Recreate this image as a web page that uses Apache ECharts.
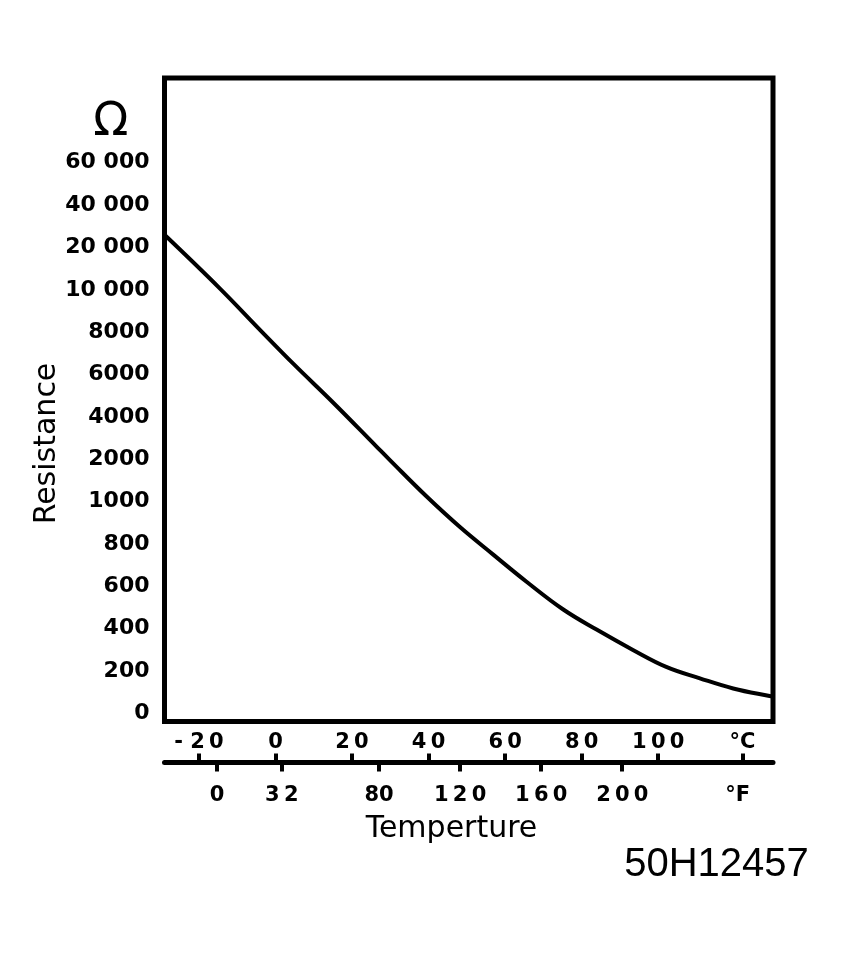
<!DOCTYPE html>
<html>
<head>
<meta charset="utf-8">
<script src="https://cdn.jsdelivr.net/npm/echarts@6/dist/echarts.min.js"></script>
<style>
html,body{margin:0;background:#fff}
#chart-show{width:851px;height:957px}
</style>
</head>
<body>
<div id="chart-show"></div>
<script>
// resistance ladder: the y axis is drawn with evenly spaced steps, not a real scale
var resistanceTicks = [0, 200, 400, 600, 800, 1000, 2000, 4000, 6000, 8000, 10000, 20000, 40000, 60000];
var resistanceLabels = ['0', '200', '400', '600', '800', '1000', '2000', '4000', '6000', '8000', '10 000', '20 000', '40 000', '60 000'];
var celsiusTicks = [-20, 0, 20, 40, 60, 80, 100];
var celsiusLabels = ['- 2\u20090', '0', '2\u20090', '4\u20090', '6\u20090', '8\u20090', '1\u20090\u20090'];
var fahrenheitTicks = [0, 32, 80, 120, 160, 200];
var fahrenheitLabels = ['0', '3\u20092', '80', '1\u20092\u20090', '1\u20096\u20090', '2\u20090\u20090'];
var celsiusUnitAt = 122;
var fahrenheitUnitAt = 257;

// curve: temperature (°C) and resistance (ohm)
var curveTemp = [-29, -14.5, -4, 4.7, 15.1, 26.4, 29.9, 39.5, 48.2, 56.9, 65.6, 75.1, 83.9, 93.4, 102.1, 110.9, 119.6, 129.1, 130];
var curveOhm = [26000, 10300, 8100, 6500, 4670, 2600, 1980, 1120, 880, 750, 622, 492, 396, 300, 220, 166, 118, 82, 80];

window.onload = all;
function all() {
    drawChart();
}

// position of a resistance value on the evenly spaced ladder
function ladderIndex(r) {
    var t = resistanceTicks;
    for (var i = 0; i < t.length - 1; i++) {
        if (r <= t[i + 1]) {
            return i + (r - t[i]) / (t[i + 1] - t[i]);
        }
    }
    var n = t.length - 1;
    return n + (r - t[n]) / (t[n] - t[n - 1]);
}

function drawChart() {
    var chart = echarts.init(document.getElementById('chart-show'));
    var boldFont = 'DejaVu Sans';

    var points = [];
    for (var i = 0; i < curveTemp.length; i++) {
        points.push([curveTemp[i], ladderIndex(curveOhm[i])]);
    }
    var yCustom = [];
    for (var k = 0; k <= resistanceTicks.length; k++) yCustom.push(k);

    var option = {
        animation: false,
        backgroundColor: '#fff',
        grid: {
            left: 164.5, right: 78, top: 78, bottom: 235.5,
            show: true, borderColor: '#000', borderWidth: 5, backgroundColor: 'transparent'
        },
        xAxis: [{
            // °C row: labels sit above the shared line, ticks point up
            type: 'value', position: 'bottom', offset: 41,
            min: -29, max: 130,
            axisLine: { show: true, onZero: false, lineStyle: { color: '#000', width: 5, cap: 'round' } },
            axisTick: { show: true, inside: true, length: 9, customValues: celsiusTicks.concat([celsiusUnitAt]),
                lineStyle: { color: '#000', width: 4 } },
            axisLabel: {
                inside: true, margin: 9, customValues: celsiusTicks.concat([celsiusUnitAt]),
                fontFamily: boldFont, fontWeight: 'bold', fontSize: 21, color: '#000',
                formatter: function (v) {
                    if (Math.abs(v - celsiusUnitAt) < 0.01) return '\u00B0C';
                    var i = celsiusTicks.indexOf(v);
                    return i < 0 ? '' : celsiusLabels[i];
                }
            },
            splitLine: { show: false }
        }, {
            // °F row: ticks point down, labels below
            type: 'value', position: 'bottom', offset: 41,
            min: -25.9, max: 274.4,
            axisLine: { show: false, onZero: false },
            axisTick: { show: true, length: 9, customValues: fahrenheitTicks,
                lineStyle: { color: '#000', width: 4 } },
            axisLabel: {
                margin: 23, customValues: fahrenheitTicks.concat([fahrenheitUnitAt]),
                fontFamily: boldFont, fontWeight: 'bold', fontSize: 21, color: '#000',
                formatter: function (v) {
                    if (Math.abs(v - fahrenheitUnitAt) < 0.01) return '\u00B0F';
                    var i = fahrenheitTicks.indexOf(v);
                    return i < 0 ? '' : fahrenheitLabels[i];
                }
            },
            splitLine: { show: false }
        }],
        yAxis: {
            type: 'value', min: -0.19, max: 15,
            axisLine: { show: false },
            axisTick: { show: false },
            splitLine: { show: false },
            axisLabel: {
                margin: 15, customValues: yCustom,
                fontFamily: boldFont, fontWeight: 'bold', fontSize: 22, color: '#000',
                formatter: function (v) {
                    if (v === resistanceTicks.length) return '{om|\u03A9}';
                    return resistanceLabels[v];
                },
                rich: {
                    om: { fontFamily: boldFont, fontSize: 46, fontWeight: 'normal', color: '#000', padding: [6, 21, 0, 0] }
                }
            }
        },
        graphic: [{
            type: 'text', x: 47.5, y: 443.5, rotation: Math.PI / 2,
            style: { text: 'Resistance', font: '30px "DejaVu Sans"', fill: '#000',
                textAlign: 'center', textVerticalAlign: 'middle', align: 'center', verticalAlign: 'middle' }
        }, {
            type: 'text', x: 451.5, y: 829,
            style: { text: 'Temperture', font: '30px "DejaVu Sans"', fill: '#000',
                textAlign: 'center', textVerticalAlign: 'middle', align: 'center', verticalAlign: 'middle' }
        }, {
            type: 'text', x: 716.5, y: 865,
            style: { text: '50H12457', font: '40px "Liberation Sans"', fill: '#000',
                textAlign: 'center', textVerticalAlign: 'middle', align: 'center', verticalAlign: 'middle' }
        }],
        series: [{
            type: 'line',
            xAxisIndex: 0,
            data: points,
            symbol: 'none',
            smooth: 0.4,
            lineStyle: { color: '#000', width: 4 }
        }]
    };
    chart.setOption(option);
    window.onresize = function () {
        chart.resize();
    };
}
</script>
</body>
</html>
